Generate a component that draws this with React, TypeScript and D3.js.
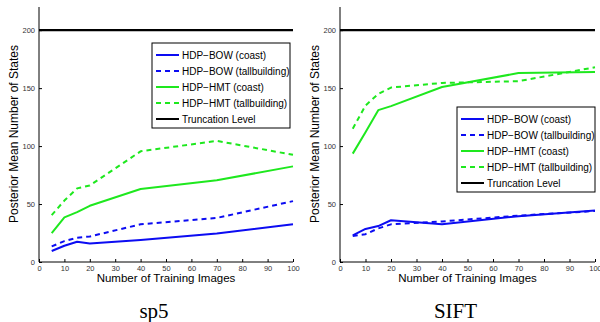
import { useRef, useEffect } from 'react';
import * as d3 from 'd3';

const trainSizes = [5, 10, 15, 20, 40, 70, 100];

// sp5 panel
const sp5BowCoast = [9.5, 14, 17.5, 16, 19, 24.5, 32.5];
const sp5BowTall = [13.5, 18, 21, 22, 32.5, 38, 52.5];
const sp5HmtCoast = [25, 38.5, 43, 48.5, 63, 70.5, 82.5];
const sp5HmtTall = [40.5, 53, 63.5, 66, 95.5, 104.5, 92.5];

// SIFT panel
const siftBowCoast = [23, 28.5, 31, 36, 32.5, 39.5, 44.5];
const siftBowTall = [22.5, 24, 29, 32.5, 35, 40, 44];
const siftHmtCoast = [93.5, 112, 131, 134.5, 151, 163, 164];
const siftHmtTall = [115, 135, 145, 150.5, 154.5, 156, 168];

const truncationLevel = 200;
const xTicks = [0, 10, 20, 30, 40, 50, 60, 70, 80, 90, 100];
const yTicks = [0, 50, 100, 150, 200];

const seriesNames = [
  "HDP\u2212BOW (coast)",
  "HDP\u2212BOW (tallbuilding)",
  "HDP\u2212HMT (coast)",
  "HDP\u2212HMT (tallbuilding)",
  "Truncation Level",
];

const BLUE = "#0c0cf2";
const GREEN = "#1ee81e";
const seriesStyle = [
  { color: BLUE, dash: null },
  { color: BLUE, dash: "5,4" },
  { color: GREEN, dash: null },
  { color: GREEN, dash: "5,4" },
  { color: "#000", dash: null },
];

const font = "'Liberation Sans', Arial, Helvetica, sans-serif";

function drawPanel(svg, opts) {
  const { x0, x1, title, values, legend } = opts;
  const top = 7, bottom = 262;

  const xScale = d3.scaleLinear().domain([0, 100]).range([x0, x1]);
  const yScale = d3.scaleLinear().domain([0, 220]).range([bottom, top]);

  const g = svg.append("g");

  // truncation level
  g.append("line")
    .attr("x1", xScale(0)).attr("x2", xScale(100))
    .attr("y1", yScale(truncationLevel)).attr("y2", yScale(truncationLevel))
    .attr("stroke", "#000").attr("stroke-width", 2.2);

  const line = d3.line()
    .x((d, i) => xScale(trainSizes[i]))
    .y(d => yScale(d));

  values.forEach((vals, i) => {
    g.append("path")
      .datum(vals)
      .attr("d", line)
      .attr("fill", "none")
      .attr("stroke", seriesStyle[i].color)
      .attr("stroke-width", 2)
      .attr("stroke-dasharray", seriesStyle[i].dash)
      .attr("stroke-linejoin", "round");
  });

  // axes (MATLAB style inward ticks)
  const xAxis = g.append("g")
    .attr("transform", `translate(0,${bottom})`)
    .call(d3.axisBottom(xScale).tickValues(xTicks).tickSizeInner(-3).tickSizeOuter(0).tickPadding(4));
  const yAxis = g.append("g")
    .attr("transform", `translate(${x0},0)`)
    .call(d3.axisLeft(yScale).tickValues(yTicks).tickSizeInner(-3).tickSizeOuter(0).tickPadding(4));
  [xAxis, yAxis].forEach(a => {
    a.select(".domain").remove();
    a.selectAll("text").attr("font-family", font).attr("font-size", 7.5).attr("fill", "#333");
    a.selectAll("line").attr("stroke", "#000");
  });
  g.append("line").attr("x1", x0).attr("x2", x0).attr("y1", top).attr("y2", bottom)
    .attr("stroke", "#000").attr("stroke-width", 1);
  g.append("line").attr("x1", x0).attr("x2", x1).attr("y1", bottom).attr("y2", bottom)
    .attr("stroke", "#000").attr("stroke-width", 1);

  // axis labels
  g.append("text")
    .attr("x", (x0 + x1) / 2).attr("y", 282)
    .attr("text-anchor", "middle")
    .attr("font-family", font).attr("font-size", 11.5)
    .text("Number of Training Images");
  g.append("text")
    .attr("transform", `translate(${x0 - 21},134) rotate(-90)`)
    .attr("text-anchor", "middle")
    .attr("font-family", font).attr("font-size", 12)
    .text("Posterior Mean Number of States");

  // subtitle
  g.append("text")
    .attr("x", (x0 + x1) / 2 - 12).attr("y", 318)
    .attr("text-anchor", "middle")
    .attr("font-family", "'Liberation Serif', 'Times New Roman', serif")
    .attr("font-size", 21)
    .text(title);

  // legend
  const lg = g.append("g").attr("transform", `translate(${legend.x},${legend.y})`);
  lg.append("rect")
    .attr("width", legend.w).attr("height", 85)
    .attr("fill", "#fff").attr("stroke", "#000").attr("stroke-width", 1);
  seriesNames.forEach((name, i) => {
    const y = 12 + i * 16;
    lg.append("line")
      .attr("x1", 4).attr("x2", 27).attr("y1", y).attr("y2", y)
      .attr("stroke", seriesStyle[i].color).attr("stroke-width", 2)
      .attr("stroke-dasharray", seriesStyle[i].dash);
    lg.append("text")
      .attr("x", 30).attr("y", y + 3.5)
      .attr("font-family", font).attr("font-size", 10)
      .text(name);
  });
}

export default function App() {
  const svgRef = useRef(null);

  useEffect(() => {
    const svg = d3.select(svgRef.current);
    svg.selectAll("*").remove();

    drawPanel(svg, {
      x0: 39, x1: 293, title: "sp5",
      values: [sp5BowCoast, sp5BowTall, sp5HmtCoast, sp5HmtTall],
      legend: { x: 152, y: 43, w: 138 },
    });
    drawPanel(svg, {
      x0: 340, x1: 595, title: "SIFT",
      values: [siftBowCoast, siftBowTall, siftHmtCoast, siftHmtTall],
      legend: { x: 457, y: 107, w: 138 },
    });
  }, []);

  return (
    <div style={{ position: 'absolute', left: 0, top: 0 }}>
      <svg ref={svgRef} width={600} height={322} style={{ display: 'block', background: '#fff' }} />
    </div>
  );
}
